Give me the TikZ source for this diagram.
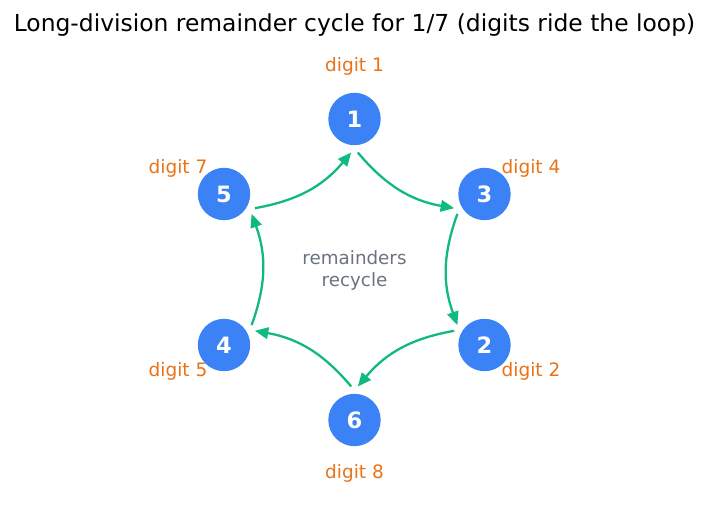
\documentclass[tikz,border=0pt]{standalone}
\usepackage{fontspec}
\setmainfont{DejaVu Sans}
\usetikzlibrary{arrows.meta}
\definecolor{nodeblue}{HTML}{3B82F6}
\definecolor{arrgreen}{HTML}{10B981}
\definecolor{digorange}{HTML}{EA7317}
\definecolor{midgray}{HTML}{6B7280}
\tikzset{
  rem/.style={circle,fill=nodeblue,minimum size=52.4pt,inner sep=0pt,text=white,font=\fontsize{22.5}{22.5}\selectfont\bfseries},
  dlabel/.style={text=digorange,font=\fontsize{18.5}{20}\selectfont,inner sep=0pt},
  flow/.style={draw=arrgreen,line width=2.3pt,-{Triangle[length=13.5pt,width=11.5pt]},bend right=20}
}
\begin{document}
\begin{tikzpicture}[x=1pt,y=-1pt]
\useasboundingbox (0,0) rectangle (709,510);
\node[font=\fontsize{23.4}{25}\selectfont,inner sep=0pt] (title) at (354.5,25) {Long-division remainder cycle for 1/7 (digits ride the loop)};
\node[rem] (n1) at (354.5,119) {1};
\node[rem] (n3) at (484.5,194) {3};
\node[rem] (n2) at (484.5,345) {2};
\node[rem] (n6) at (354.5,420) {6};
\node[rem] (n4) at (224,345) {4};
\node[rem] (n5) at (224,194) {5};
\node[dlabel] (l1) at (354.5,66) {digit 1};
\node[dlabel] (l4) at (531,168) {digit 4};
\node[dlabel] (l2) at (531,371) {digit 2};
\node[dlabel] (l8) at (354.5,473) {digit 8};
\node[dlabel] (l5) at (178,371) {digit 5};
\node[dlabel] (l7) at (178,168) {digit 7};
\node[text=midgray,font=\fontsize{18.3}{22}\selectfont,align=center,inner sep=0pt] (mid) at (354.5,270) {remainders\\recycle};
% arrow end points on an inner ring
\coordinate (s1) at (357.8,152.5);
\coordinate (e3) at (454.2,208.2);
\coordinate (s3) at (457.4,213.9);
\coordinate (e2) at (457.4,325.1);
\coordinate (s2) at (454.2,330.8);
\coordinate (e6) at (357.8,386.5);
\coordinate (s6) at (351.2,386.5);
\coordinate (e4) at (254.8,330.8);
\coordinate (s4) at (251.6,325.1);
\coordinate (e5) at (251.6,213.9);
\coordinate (s5) at (254.8,208.2);
\coordinate (e1) at (351.2,152.5);
\draw[flow] (s1) to (e3);
\draw[flow] (s3) to (e2);
\draw[flow] (s2) to (e6);
\draw[flow] (s6) to (e4);
\draw[flow] (s4) to (e5);
\draw[flow] (s5) to (e1);
\end{tikzpicture}
\end{document}
